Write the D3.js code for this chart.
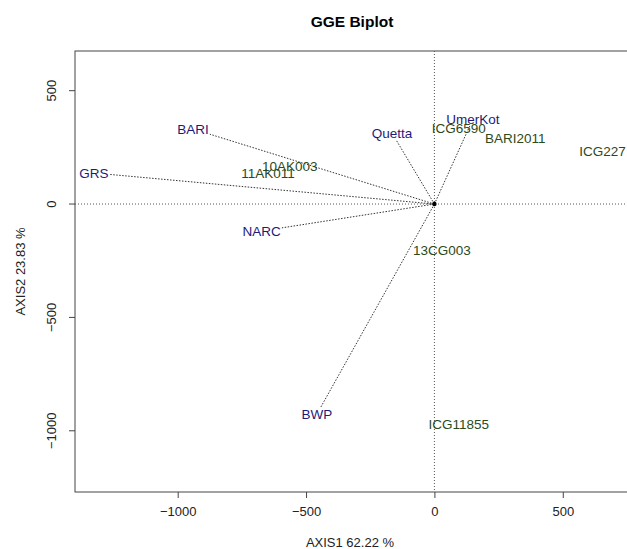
<!DOCTYPE html>
<html>
<head>
<meta charset="utf-8">
<script src="https://cdn.jsdelivr.net/npm/d3@7"></script>
<style>
  body { margin: 0; background: #fff; }
  text { font-family: "Liberation Sans", Arial, sans-serif; }
</style>
</head>
<body>
<div id="chart"></div>
<script>
// environments (vectors)
var envNames = ["BARI", "GRS", "NARC", "Quetta", "UmerKot", "BWP"];
var envPC1 = [-940, -1326, -673, -165, 150, -458];
var envPC2 = [331, 137, -119, 313, 375, -927];

// genotypes
var genNames = ["ICG227", "BARI2011", "ICG6590", "10AK003", "11AK011", "13CG003", "ICG11855"];
var genPC1 = [655, 315, 95, -563, -648, 29, 95];
var genPC2 = [234, 291, 335, 166, 134, -203, -971];

var xTicks = [-1000, -500, 0, 500];
var yTicks = [500, 0, -500, -1000];

var W = 627, H = 549;
var plot = { left: 75, right: 629, top: 51, bottom: 492 };

var svg = d3.select("#chart").append("svg")
  .attr("width", W)
  .attr("height", H);

var x = d3.scaleLinear().domain([-1400, 758]).range([plot.left, plot.right]);
var y = d3.scaleLinear().domain([-1270, 675]).range([plot.bottom, plot.top]);
var fmt = d3.format("d");

// title
svg.append("text")
  .attr("x", (plot.left + plot.right) / 2)
  .attr("y", 27)
  .attr("text-anchor", "middle")
  .style("font-size", "15.5px")
  .style("font-weight", "bold")
  .text("GGE Biplot");

// box
svg.append("rect")
  .attr("x", plot.left)
  .attr("y", plot.top)
  .attr("width", plot.right - plot.left)
  .attr("height", plot.bottom - plot.top)
  .attr("fill", "none")
  .attr("stroke", "#444")
  .attr("stroke-width", 1);

// axes
var xAxis = svg.append("g")
  .attr("transform", "translate(0," + plot.bottom + ")")
  .call(d3.axisBottom(x).tickValues(xTicks).tickFormat(fmt).tickSize(6).tickSizeOuter(0).tickPadding(9));
xAxis.select(".domain").remove();
xAxis.selectAll("line").attr("stroke", "#444");
xAxis.selectAll("text").style("font-size", "13px").style("font-family", "Liberation Sans, Arial, sans-serif").attr("fill", "#222");

var yAxis = svg.append("g")
  .attr("transform", "translate(" + plot.left + ",0)")
  .call(d3.axisLeft(y).tickValues(yTicks).tickFormat(fmt).tickSize(6).tickSizeOuter(0));
yAxis.select(".domain").remove();
yAxis.selectAll(".tick").attr("transform", null);
yAxis.selectAll(".tick line")
  .attr("stroke", "#444")
  .attr("y1", function (d) { return y(d); })
  .attr("y2", function (d) { return y(d); });
yAxis.selectAll("text")
  .style("font-size", "13px")
  .style("font-family", "Liberation Sans, Arial, sans-serif")
  .attr("fill", "#222")
  .attr("text-anchor", "middle")
  .attr("x", 0)
  .attr("y", 0)
  .attr("dy", 0)
  .attr("transform", function (d) { return "translate(-19," + y(d) + ") rotate(-90)"; });

// axis titles
svg.append("text")
  .attr("x", (plot.left + plot.right) / 2 - 2)
  .attr("y", 547)
  .attr("text-anchor", "middle")
  .style("font-size", "13px")
  .attr("fill", "#222")
  .text("AXIS1 62.22 %");

svg.append("text")
  .attr("transform", "translate(25," + ((plot.top + plot.bottom) / 2) + ") rotate(-90)")
  .attr("text-anchor", "middle")
  .style("font-size", "13px")
  .attr("fill", "#222")
  .text("AXIS2 23.83 %");

var g = svg.append("g");

// reference lines through origin
g.append("line")
  .attr("x1", plot.left).attr("x2", plot.right)
  .attr("y1", y(0)).attr("y2", y(0))
  .attr("stroke", "#555").attr("stroke-width", 1)
  .attr("stroke-dasharray", "1,2");
g.append("line")
  .attr("x1", x(0)).attr("x2", x(0))
  .attr("y1", plot.top).attr("y2", plot.bottom)
  .attr("stroke", "#555").attr("stroke-width", 1)
  .attr("stroke-dasharray", "1,2");

var envData = envNames.map(function (n, i) {
  return { name: n, pc1: envPC1[i], pc2: envPC2[i] };
});
var genData = genNames.map(function (n, i) {
  return { name: n, pc1: genPC1[i], pc2: genPC2[i] };
});

var lineG = g.append("g");

// genotype labels
g.selectAll(".gen").data(genData).enter().append("text")
  .attr("class", "gen")
  .attr("x", function (d) { return x(d.pc1); })
  .attr("y", function (d) { return y(d.pc2); })
  .attr("dy", "0.35em")
  .attr("text-anchor", "middle")
  .style("font-size", "13.5px")
  .attr("fill", "#2b4a1c")
  .text(function (d) { return d.name; });

// environment labels
var envText = g.selectAll(".env").data(envData).enter().append("text")
  .attr("class", "env")
  .attr("x", function (d) { return x(d.pc1); })
  .attr("y", function (d) { return y(d.pc2); })
  .attr("dy", "0.35em")
  .attr("text-anchor", "middle")
  .style("font-size", "13.5px")
  .attr("fill", "#1f1a78")
  .text(function (d) { return d.name; });

// vectors from origin, stopped where they meet the label box
envText.each(function (d) {
  var bb = this.getBBox();
  var ox = x(0), oy = y(0);
  var cx = x(d.pc1), cy = y(d.pc2);
  var dx = cx - ox, dy = cy - oy;
  var hw = bb.width / 2 + 1, hh = bb.height / 2 - 1;
  var s = Math.min(
    dx !== 0 ? hw / Math.abs(dx) : Infinity,
    dy !== 0 ? hh / Math.abs(dy) : Infinity
  );
  var t = 1 - s;
  lineG.append("line")
    .attr("x1", ox).attr("y1", oy)
    .attr("x2", ox + dx * t).attr("y2", oy + dy * t)
    .attr("stroke", "#333").attr("stroke-width", 1)
    .attr("stroke-dasharray", "1.5,1.5");
});

// origin marker
g.append("circle")
  .attr("cx", x(0)).attr("cy", y(0))
  .attr("r", 2.2)
  .attr("fill", "#000");
</script>
</body>
</html>
